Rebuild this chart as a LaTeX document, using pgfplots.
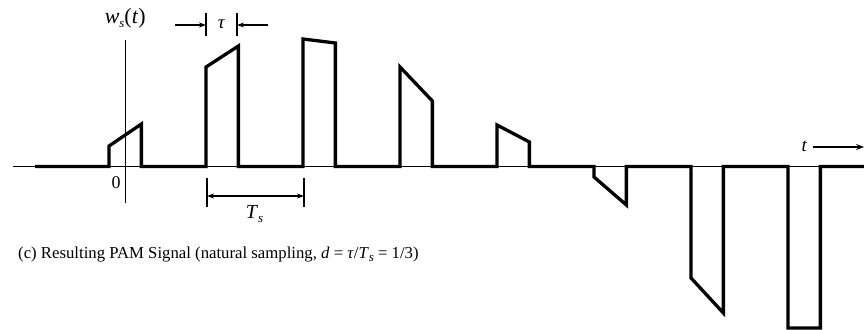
\documentclass[border=0pt]{standalone}
\usepackage{fontspec}
\setmainfont{Liberation Serif}
\usepackage{pgfplots}
\pgfplotsset{compat=1.18}
\usetikzlibrary{arrows.meta}

% italic symbols set in the text font, with lowered subscripts
\newcommand{\sub}[1]{\raisebox{-0.4ex}{\fontsize{13}{14}\selectfont\itshape #1}}
\newcommand{\wst}{\textit{w}\sub{s}(\textit{t})}
\newcommand{\Ts}{\textit{T}\sub{s}}

% PAM waveform, natural sampling: t in units of tau (T_s = 3 tau)
\pgfplotstableread{
t      w
-2.79  0
-0.5   0
-0.5   0.205
0.5    0.425
0.5    0
2.5    0
2.5    0.995
3.5    1.205
3.5    0
5.5    0
5.5    1.275
6.5    1.235
6.5    0
8.5    0
8.5    0.995
9.5    0.655
9.5    0
11.5   0
11.5   0.415
12.5   0.245
12.5   0
14.5   0
14.5   -0.105
15.5   -0.385
15.5   0
17.5   0
17.5   -1.115
18.5   -1.465
18.5   0
20.5   0
20.5   -1.615
21.5   -1.615
21.5   0
22.85  0
}\pamsignal

\begin{document}
\begin{tikzpicture}
\begin{axis}[
  width=864bp, height=330bp, scale only axis,
  xmin=-3.873, xmax=22.85,
  ymin=-1.635, ymax=1.665,
  hide axis, clip=false,
]
  % thin time and amplitude axes
  \addplot[black, line width=1.1bp] coordinates {(-3.47,0) (22.85,0)};
  \addplot[black, line width=1.1bp] coordinates {(0,1.265) (0,-0.365)};

  % sampled signal
  \addplot[black, line width=3.3bp, line join=miter, line cap=butt] table[x=t, y=w] {\pamsignal};

  \coordinate (SW) at (rel axis cs:0,0);
  \coordinate (NE) at (rel axis cs:1,1);

  % labels
  \node[font=\fontsize{22}{26}\selectfont] at (axis cs:0,1.48) {\wst};
  \node[font=\fontsize{18}{21}\selectfont] at (axis cs:-0.28,-0.16) {0};

  % pulse width tau
  \draw[line width=1.2bp] (axis cs:2.5,1.535) -- (axis cs:2.5,1.305);
  \draw[line width=1.2bp] (axis cs:3.46,1.535) -- (axis cs:3.46,1.305);
  \draw[line width=1.2bp, -{Stealth[length=7bp,width=5bp]}] (axis cs:1.54,1.415) -- (axis cs:2.5,1.415);
  \draw[line width=1.2bp, -{Stealth[length=7bp,width=5bp]}] (axis cs:4.42,1.415) -- (axis cs:3.46,1.415);
  \node[font=\fontsize{19}{22}\selectfont] at (axis cs:2.98,1.42) {\textit{τ}};

  % sampling period T_s
  \draw[line width=1.2bp] (axis cs:2.53,-0.115) -- (axis cs:2.53,-0.405);
  \draw[line width=1.2bp] (axis cs:5.53,-0.115) -- (axis cs:5.53,-0.405);
  \draw[line width=1.2bp, {Stealth[length=7bp,width=5bp]}-{Stealth[length=7bp,width=5bp]}] (axis cs:2.53,-0.295) -- (axis cs:5.53,-0.295);
  \node[font=\fontsize{20}{24}\selectfont] at (axis cs:4.0,-0.475) {\Ts};

  % time arrow
  \draw[line width=1.2bp, -{Stealth[length=8bp,width=6bp]}] (axis cs:21.27,0.195) -- (axis cs:22.85,0.195);
  \node[font=\fontsize{19}{22}\selectfont, anchor=east] at (axis cs:21.2,0.2) {\textit{t}};

  % caption
  \node[font=\fontsize{16.8}{20}\selectfont, anchor=base west, inner sep=0pt] at (axis cs:-3.316,-0.915)
    {(c) Resulting PAM Signal (natural sampling, \textit{d} = \textit{τ}/\Ts{} = 1/3)};
\end{axis}
\pgfresetboundingbox
\path[use as bounding box] (SW) rectangle (NE);
\end{tikzpicture}
\end{document}
